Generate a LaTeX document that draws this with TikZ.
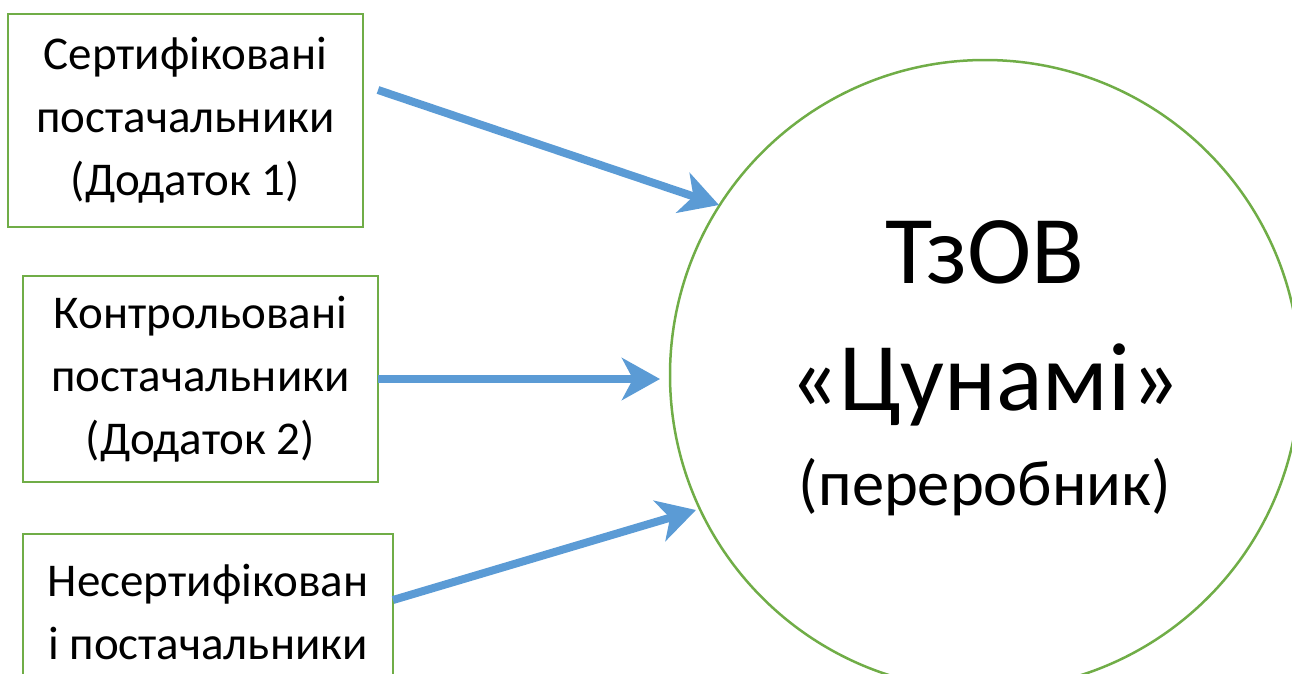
\documentclass[tikz,border=0pt]{standalone}
\usepackage{fontspec}
\setmainfont{Carlito}
\usetikzlibrary{arrows.meta}
\definecolor{gr}{HTML}{70AD47}
\definecolor{bl}{HTML}{5B9BD5}
\tikzset{
  box/.style={draw=gr, line width=2.5pt, rectangle, inner sep=0pt, outer sep=0pt, align=center, font=\fontsize{47}{63}\selectfont},
  big/.style={draw=gr, line width=2.5pt, circle, inner sep=0pt, outer sep=0pt},
  conn/.style={draw=bl, line width=8pt, -{Stealth[length=38pt, width=42pt, inset=11pt]}},
  lbl/.style={inner sep=0pt, anchor=base}
}
\begin{document}
\begin{tikzpicture}[x=1pt,y=-1pt]
\useasboundingbox (0,0) rectangle (1292,673);
\node[box, minimum width=355pt, minimum height=213pt] (b1) at (185.5,120.5) {Сертифіковані\\постачальники\\(Додаток 1)};
\node[box, minimum width=355pt, minimum height=206pt] (b2) at (200.5,379) {Контрольовані\\постачальники\\(Додаток 2)};
\node[box, minimum width=370pt, minimum height=155pt] (b3) at (208,611.5) {Несертифікован\\і постачальники};
\node[big, minimum size=630pt] (c) at (985,375) {};
\node[lbl, font=\fontsize{97}{110}\selectfont] (t1) at (985,283) {ТзОВ};
\node[lbl, font=\fontsize{97}{110}\selectfont] (t2) at (985,410) {«Цунамі»};
\node[lbl, font=\fontsize{64.5}{70}\selectfont] (t3) at (985,505) {(переробник)};
\coordinate (a1s) at (378,90);
\coordinate (a1e) at (719,205);
\coordinate (a2e) at (660,379);
\coordinate (a3s) at (393,600);
\coordinate (a3e) at (696,510);
\draw[conn] (a1s) -- (a1e);
\draw[conn] (b2.east) -- (a2e);
\draw[conn] (a3s) -- (a3e);
\end{tikzpicture}
\end{document}
